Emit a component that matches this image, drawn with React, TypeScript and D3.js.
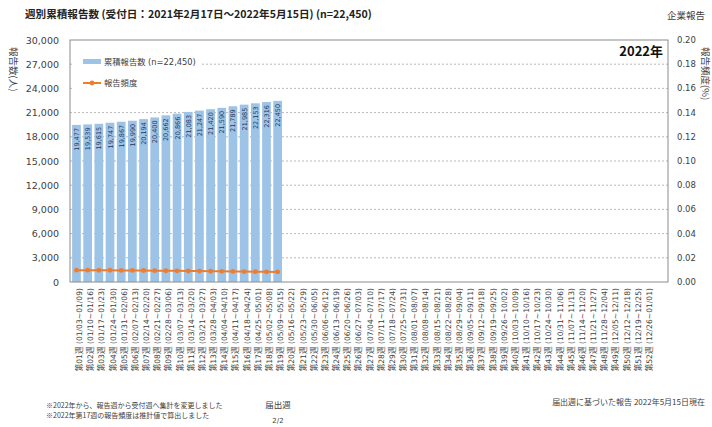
import * as d3 from "d3";

// weeks of 2022
const weekNo: string[] = Array.from({ length: 52 }, (_, i) => String(i + 1).padStart(2, "0"));
const weekRange: string[] = [
  "01/03~01/09", "01/10~01/16", "01/17~01/23", "01/24~01/30", "01/31~02/06", "02/07~02/13",
  "02/14~02/20", "02/21~02/27", "02/28~03/06", "03/07~03/13", "03/14~03/20", "03/21~03/27",
  "03/28~04/03", "04/04~04/10", "04/11~04/17", "04/18~04/24", "04/25~05/01", "05/02~05/08",
  "05/09~05/15", "05/16~05/22", "05/23~05/29", "05/30~06/05", "06/06~06/12", "06/13~06/19",
  "06/20~06/26", "06/27~07/03", "07/04~07/10", "07/11~07/17", "07/18~07/24", "07/25~07/31",
  "08/01~08/07", "08/08~08/14", "08/15~08/21", "08/22~08/28", "08/29~09/04", "09/05~09/11",
  "09/12~09/18", "09/19~09/25", "09/26~10/02", "10/03~10/09", "10/10~10/16", "10/17~10/23",
  "10/24~10/30", "10/31~11/06", "11/07~11/13", "11/14~11/20", "11/21~11/27", "11/28~12/04",
  "12/05~12/11", "12/12~12/18", "12/19~12/25", "12/26~01/01",
];
const cumulative: number[] = [
  19477, 19539, 19615, 19747, 19867, 19990, 20194, 20400, 20662, 20866,
  21083, 21247, 21420, 21590, 21789, 21985, 22153, 22316, 22450,
];
const frequency: number[] = [
  0.0098, 0.0098, 0.0097, 0.0097, 0.0096, 0.0096, 0.0095, 0.0094, 0.0093, 0.0092,
  0.0091, 0.0090, 0.0089, 0.0088, 0.0087, 0.0086, 0.0085, 0.0084, 0.0083,
];
const leftTicks: number[] = [0, 3000, 6000, 9000, 12000, 15000, 18000, 21000, 24000, 27000, 30000];
const rightTicks: number[] = [0, 0.02, 0.04, 0.06, 0.08, 0.1, 0.12, 0.14, 0.16, 0.18, 0.2];

const FONT = "'DejaVu Sans', 'Noto Sans CJK JP', sans-serif";
const JP = "'Noto Sans CJK JP', sans-serif";
const BAR = "#9dc3e6";
const LINE = "#ed7d31";
const TXT = "#404040";

export default function App() {
  const left = 70, right = 668, top = 40, bottom = 282;
  const labels = weekNo.map((w, i) => `第${w}週 (${weekRange[i]})`);

  const x = d3.scaleBand<number>()
    .domain(labels.map((_, i) => i))
    .range([71, 652])
    .paddingInner(0.22)
    .paddingOuter(0.1);
  const y = d3.scaleLinear().domain([0, 30000]).range([bottom, top]);
  const y2 = d3.scaleLinear().domain([0, 0.2]).range([bottom, top]);
  const cx = (i: number) => (x(i) as number) + x.bandwidth() / 2;

  const line = d3.line<number>()
    .x((_, i) => cx(i))
    .y((d) => y2(d));

  return (
    <svg width={712} height={427} style={{ position: "absolute", left: 0, top: 0, background: "#fff" }}>
      {/* title */}
      <text x={25} y={18} fontFamily={JP} fontWeight="bold" fontSize={10.6} fill="#222">
        週別累積報告数 (受付日：2021年2月17日～2022年5月15日) (n=22,450)
      </text>
      <text x={705} y={19} textAnchor="end" fontFamily={JP} fontSize={9.5} fill={TXT}>企業報告</text>

      {/* gridlines */}
      {leftTicks.filter((t) => t > 0 && t < 30000).map((t) => (
        <line key={t} x1={left} x2={right} y1={y(t)} y2={y(t)} stroke="#a6a6a6" strokeWidth={0.8} strokeDasharray="2,2" />
      ))}

      {/* bars */}
      {cumulative.map((v, i) => (
        <rect key={i} x={x(i)} y={y(v)} width={x.bandwidth()} height={bottom - y(v)} fill={BAR} />
      ))}
      {cumulative.map((v, i) => (
        <text key={i} transform={`translate(${cx(i) + 0.5},${y(v) + 3}) rotate(-90)`} textAnchor="end"
          dominantBaseline="central" fontFamily={FONT} fontSize={6.5} fill="#1f3864">
          {d3.format(",")(v)}
        </text>
      ))}

      {/* frequency line */}
      <path d={line(frequency) ?? ""} fill="none" stroke={LINE} strokeWidth={2} />
      {frequency.map((d, i) => (
        <circle key={i} cx={cx(i)} cy={y2(d)} r={2.4} fill={LINE} />
      ))}

      {/* plot frame */}
      <rect x={left} y={top} width={right - left} height={bottom - top} fill="none" stroke="#8c8c8c" strokeWidth={1} />

      {/* legend */}
      <rect x={74} y={52} width={126} height={38} fill="#fff" />
      <rect x={83} y={59} width={18} height={5} fill={BAR} />
      <text x={104} y={62} dominantBaseline="central" fontFamily={FONT} fontSize={8.3} fill={TXT}>
        累積報告数 (n=22,450)
      </text>
      <line x1={83} x2={101} y1={83} y2={83} stroke={LINE} strokeWidth={2} />
      <circle cx={92} cy={83} r={2.4} fill={LINE} />
      <text x={104} y={83} dominantBaseline="central" fontFamily={FONT} fontSize={8.3} fill={TXT}>報告頻度</text>

      <text x={663} y={56} textAnchor="end" fontFamily={JP} fontWeight="bold" fontSize={13} fill="#111">2022年</text>

      {/* left axis */}
      {leftTicks.map((t) => (
        <text key={t} x={59} y={y(t)} textAnchor="end" dominantBaseline="central" fontFamily={FONT} fontSize={9.5} fill={TXT}>
          {d3.format(",")(t)}
        </text>
      ))}
      <text transform="translate(10,47) rotate(90)" fontFamily={JP} fontSize={9.5} fill={TXT}>報告数(人)</text>

      {/* right axis */}
      {rightTicks.map((t) => (
        <text key={t} x={677} y={y2(t)} dominantBaseline="central" fontFamily={FONT} fontSize={8.5} fill={TXT}>
          {d3.format(".2f")(t)}
        </text>
      ))}
      <text transform="translate(702,47) rotate(90)" fontFamily={JP} fontSize={9.5} fill={TXT}>報告頻度(%)</text>

      {/* x labels */}
      {labels.map((l, i) => (
        <text key={i} transform={`translate(${cx(i) + 3},${bottom + 6}) rotate(-90)`} textAnchor="end"
          dominantBaseline="central" fontFamily={FONT} fontSize={7.6} fill={TXT}>
          {l}
        </text>
      ))}

      {/* footer */}
      <text x={46} y={408} fontFamily={JP} fontSize={7} fill={TXT}>※2022年から、報告週から受付週へ集計を変更しました</text>
      <text x={46} y={418} fontFamily={JP} fontSize={7} fill={TXT}>※2022年第17週の報告頻度は推計値で算出しました</text>
      <text x={278} y={408} textAnchor="middle" fontFamily={JP} fontSize={8.5} fill={TXT}>届出週</text>
      <text x={278} y={423} textAnchor="middle" fontFamily={FONT} fontSize={7} fill={TXT}>2/2</text>
      <text x={705} y={405} textAnchor="end" fontFamily={JP} fontSize={8} fill={TXT}>届出週に基づいた報告 2022年5月15日現在</text>
    </svg>
  );
}
